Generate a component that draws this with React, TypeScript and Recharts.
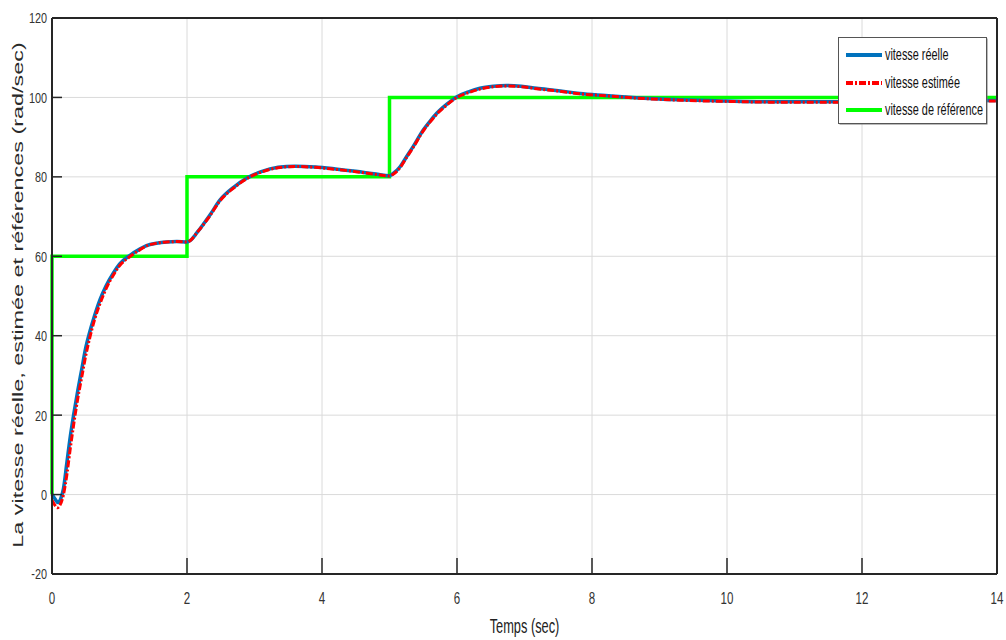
import React from 'react';
import { LineChart, Line, XAxis, YAxis, CartesianGrid, Legend } from 'recharts';

const realTime = [0, 0.04, 0.09, 0.13, 0.17, 0.22, 0.27, 0.32, 0.38, 0.44, 0.5, 0.56, 0.63, 0.71, 0.8, 0.91, 1.0, 1.16, 1.3, 1.4, 1.55, 1.7, 1.85, 2.0,
  2.05, 2.15, 2.34, 2.49, 2.7, 2.89, 3.1, 3.35, 3.6, 3.9, 4.2, 4.5, 4.8, 5.0,
  5.05, 5.16, 5.25, 5.35, 5.5, 5.6, 5.7, 5.85, 6.0, 6.17, 6.34, 6.54, 6.74, 6.95, 7.18, 7.5, 7.82, 8.2, 8.6, 9.3, 10, 10.8, 11.6, 12.4, 13.2, 14];
const realSpeed = [0, -1, -2, -1, 1.5, 8, 14.5, 20, 26, 31.5, 37, 41, 45, 49, 52.5, 55.8, 58, 60.3, 61.8, 62.7, 63.3, 63.6, 63.7, 63.6,
  64, 66, 70.4, 74.2, 77.5, 79.7, 81.3, 82.4, 82.7, 82.5, 82, 81.4, 80.7, 80.3,
  80.8, 82.6, 85, 87.6, 91.8, 94, 96, 98.3, 100.2, 101.4, 102.3, 102.8, 103, 102.8, 102.3, 101.7, 101, 100.5, 100, 99.4, 99.1, 98.9, 98.9, 99, 99.1, 99.2];

const estTime = [0, 0.04, 0.08, 0.12, 0.17, 0.22, 0.27, 0.32, 0.38, 0.44, 0.5, 0.56, 0.63, 0.71, 0.8, 0.91, 1.0, 1.16, 1.3, 1.4, 1.55, 1.7, 1.85, 2.0,
  2.05, 2.15, 2.34, 2.49, 2.7, 2.89, 3.1, 3.35, 3.6, 3.9, 4.2, 4.5, 4.8, 5.0,
  5.05, 5.16, 5.25, 5.35, 5.5, 5.6, 5.7, 5.85, 6.0, 6.17, 6.34, 6.54, 6.74, 6.95, 7.18, 7.5, 7.82, 8.2, 8.6, 9.3, 10, 10.8, 11.6, 12.4, 13.2, 14];
const estSpeed = [-1.4, -2.6, -3.3, -2.6, 0, 5, 11.5, 17.5, 24, 29.5, 35, 39.5, 44, 48, 51.8, 55.3, 57.6, 60, 61.6, 62.6, 63.3, 63.6, 63.7, 63.6,
  64, 66, 70.2, 74, 77.3, 79.6, 81.2, 82.3, 82.6, 82.4, 81.9, 81.3, 80.6, 80.2,
  80.6, 82.4, 84.8, 87.4, 91.6, 93.8, 95.8, 98.1, 100, 101.2, 102.1, 102.7, 102.9, 102.7, 102.2, 101.6, 100.9, 100.4, 99.9, 99.3, 99, 98.8, 98.8, 98.9, 99, 99.1];

const refTime = [0, 0, 2, 2, 5, 5, 14];
const refSpeed = [0, 60, 60, 80, 80, 100, 100];

const xTicks = [0, 2, 4, 6, 8, 10, 12, 14];
const yTicks = [-20, 0, 20, 40, 60, 80, 100, 120];

const seriesNames = ['vitesse réelle', 'vitesse estimée', 'vitesse de référence'];
const xTitle = 'Temps (sec)';
const yTitle = 'La vitesse réelle, estimée et références (rad/sec)';

const realData = realTime.map((t, i) => ({ t, v: realSpeed[i] }));
const estData = estTime.map((t, i) => ({ t, v: estSpeed[i] }));
const refData = refTime.map((t, i) => ({ t, v: refSpeed[i] }));

const FONT = "'Liberation Sans', Arial, Helvetica, sans-serif";
const SQ = 0.64; // horizontal squeeze of the reference typography
const SQ_TICK = 0.7;
const BLUE = '#0072BD';
const RED = '#FF0000';
const GREEN = '#00FF00';
const RED_DASH = '7 2 2 2';
const AXIS = '#262626';

const squeeze = (x: number, s: number = SQ) => `translate(${x},0) scale(${s},1) translate(${-x},0)`;

const XTick = (p: any) => (
  <text x={p.x} y={p.y} dy={11.6} textAnchor="middle" transform={squeeze(p.x, SQ_TICK)}
    style={{ fontFamily: FONT, fontSize: 16.5, fill: '#333' }}>
    {p.payload.value}
  </text>
);

const YTick = (p: any) => (
  <text x={p.x} y={p.y} dy={5.5} textAnchor="end" transform={squeeze(p.x, SQ_TICK)}
    style={{ fontFamily: FONT, fontSize: 15.5, fill: '#333' }}>
    {p.payload.value}
  </text>
);

const XLabel = (props: any) => {
  const vb = props.viewBox || { x: 52, y: 574, width: 945, height: 66 };
  const cx = vb.x + vb.width / 2;
  return (
    <text x={cx} y={vb.y + 59} textAnchor="middle" transform={squeeze(cx)}
      style={{ fontFamily: FONT, fontSize: 20, fill: '#222' }}>
      {xTitle}
    </text>
  );
};

const YLabel = (props: any) => {
  const vb = props.viewBox || { x: 0, y: 18, width: 52, height: 556 };
  const cx = 17.5;
  const cy = vb.y + vb.height / 2 - 1;
  return (
    <g transform={`translate(${cx},${cy}) scale(${SQ},1) rotate(-90)`}>
      <text x={0} y={0} textAnchor="middle" dominantBaseline="central"
        style={{ fontFamily: FONT, fontSize: 23.4, fill: '#2a2a2a' }}>
        {yTitle}
      </text>
    </g>
  );
};

const LegendBox = () => {
  const items = [
    { name: seriesNames[0], color: BLUE, dash: undefined as string | undefined },
    { name: seriesNames[1], color: RED, dash: RED_DASH },
    { name: seriesNames[2], color: GREEN, dash: undefined as string | undefined },
  ];
  const rows = [18, 46, 73];
  return (
    <svg width={152} height={90} style={{ display: 'block', overflow: 'visible' }}>
      <rect x={1.5} y={1.5} width={148} height={86} fill="#777" />
      <rect x={0.5} y={0.5} width={148} height={86} fill="#fff" stroke="#555" strokeWidth={1} />
      {items.map((it, i) => (
        <g key={it.name}>
          <line x1={8} y1={rows[i]} x2={44} y2={rows[i]} stroke={it.color} strokeWidth={4} strokeDasharray={it.dash} />
          <text x={47} y={rows[i]} dy={5.5} transform={squeeze(47)}
            style={{ fontFamily: FONT, fontSize: 17, fill: '#111' }}>
            {it.name}
          </text>
        </g>
      ))}
    </svg>
  );
};

export default function App() {
  return (
    <div style={{ position: 'absolute', left: 0, top: 0, width: 1006, height: 640, background: '#fff' }}>
      <LineChart width={1006} height={640} margin={{ top: 0, right: 0, bottom: 0, left: 0 }}>
        <CartesianGrid xAxisId="main" yAxisId="main" stroke="#dadada" strokeWidth={1}
          horizontalValues={yTicks} verticalValues={xTicks} />
        <XAxis
          xAxisId="main"
          type="number"
          dataKey="t"
          domain={[0, 14]}
          ticks={xTicks}
          height={66}
          axisLine={{ stroke: AXIS, strokeWidth: 2 }}
          tickLine={{ stroke: AXIS, strokeWidth: 1.5 }}
          tickSize={-16}
          tickMargin={34}
          tick={<XTick />}
          label={<XLabel />}
        />
        <XAxis
          xAxisId="top"
          orientation="top"
          type="number"
          dataKey="t"
          domain={[0, 14]}
          ticks={xTicks}
          height={18}
          axisLine={{ stroke: AXIS, strokeWidth: 2 }}
          tickLine={{ stroke: AXIS, strokeWidth: 1.5 }}
          tickSize={-16}
          tick={false}
        />
        <YAxis
          yAxisId="main"
          type="number"
          domain={[-20, 120]}
          ticks={yTicks}
          width={52}
          axisLine={{ stroke: AXIS, strokeWidth: 2 }}
          tickLine={{ stroke: AXIS, strokeWidth: 1.5 }}
          tickSize={-10}
          tickMargin={15}
          tick={<YTick />}
          label={<YLabel />}
        />
        <YAxis
          yAxisId="right"
          orientation="right"
          type="number"
          domain={[-20, 120]}
          ticks={yTicks}
          width={9}
          axisLine={{ stroke: AXIS, strokeWidth: 2 }}
          tickLine={{ stroke: AXIS, strokeWidth: 1.5 }}
          tickSize={-10}
          tick={false}
        />
        <Line xAxisId="main" yAxisId="main" data={refData} dataKey="v" name={seriesNames[2]} type="linear" stroke={GREEN} strokeWidth={3.5} dot={false} isAnimationActive={false} />
        <Line xAxisId="main" yAxisId="main" data={realData} dataKey="v" name={seriesNames[0]} type="monotone" stroke={BLUE} strokeWidth={3.5} dot={false} isAnimationActive={false} />
        <Line xAxisId="main" yAxisId="main" data={estData} dataKey="v" name={seriesNames[1]} type="monotone" stroke={RED} strokeWidth={3} strokeDasharray={RED_DASH} dot={false} isAnimationActive={false} />
        <Legend
          layout="vertical"
          verticalAlign="middle"
          align="center"
          content={() => <LegendBox />}
          wrapperStyle={{ position: 'absolute', left: 838, top: 37, width: 152, height: 90 }}
        />
      </LineChart>
    </div>
  );
}
